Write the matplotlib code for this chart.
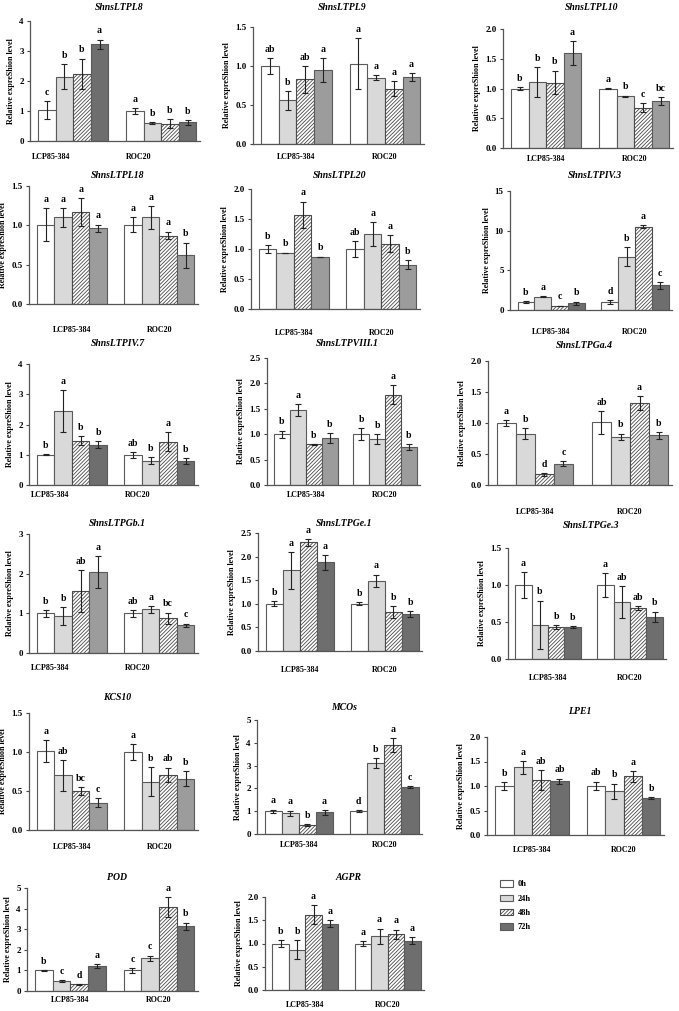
import matplotlib
matplotlib.use("Agg")
import matplotlib.pyplot as plt
import numpy as np
from matplotlib.transforms import blended_transform_factory
from matplotlib.patches import Patch

# ---------------- data ----------------
genes = ["ShnsLTPL8", "ShnsLTPL9", "ShnsLTPL10", "ShnsLTPL18", "ShnsLTPL20",
         "ShnsLTPIV.3", "ShnsLTPIV.7", "ShnsLTPVIII.1", "ShnsLTPGa.4",
         "ShnsLTPGb.1", "ShnsLTPGe.1", "ShnsLTPGe.3", "KCS10", "MCOs", "LPE1",
         "POD", "AGPR"]
cultivars = ["LCP85-384", "ROC20"]
timepoints = ["0h", "24h", "48h", "72h"]

lcp_mean = [[1.02, 2.15, 2.25, 3.23], [1.00, 0.56, 0.83, 0.95], [1.00, 1.11, 1.10, 1.60],
            [1.01, 1.10, 1.17, 0.96], [1.00, 0.94, 1.57, 0.87], [1.00, 1.70, 0.50, 0.87],
            [1.00, 2.45, 1.47, 1.33], [1.00, 1.48, 0.80, 0.92], [1.00, 0.83, 0.17, 0.34],
            [1.00, 0.93, 1.57, 2.05], [1.00, 1.71, 2.30, 1.88], [1.00, 0.46, 0.43, 0.43],
            [1.01, 0.70, 0.50, 0.35], [1.00, 0.90, 0.40, 0.95], [1.00, 1.38, 1.12, 1.10],
            [1.00, 0.50, 0.33, 1.22], [1.00, 0.87, 1.62, 1.43]]
lcp_err = [[0.30, 0.42, 0.50, 0.15], [0.10, 0.12, 0.17, 0.15], [0.02, 0.25, 0.20, 0.20],
           [0.21, 0.12, 0.18, 0.05], [0.07, 0.00, 0.22, 0.005], [0.10, 0.10, 0.05, 0.20],
           [0.01, 0.70, 0.14, 0.12], [0.07, 0.12, 0.01, 0.10], [0.05, 0.09, 0.02, 0.04],
           [0.08, 0.22, 0.53, 0.40], [0.05, 0.39, 0.07, 0.16], [0.18, 0.33, 0.03, 0.01],
           [0.14, 0.20, 0.05, 0.06], [0.07, 0.13, 0.03, 0.10], [0.08, 0.13, 0.20, 0.05],
           [0.03, 0.05, 0.02, 0.10], [0.07, 0.20, 0.20, 0.07]]
roc_mean = [[1.00, 0.60, 0.57, 0.63], [1.03, 0.85, 0.71, 0.86], [1.00, 0.87, 0.68, 0.79],
            [1.01, 1.10, 0.87, 0.62], [1.00, 1.25, 1.09, 0.74], [1.00, 6.70, 10.50, 3.10],
            [1.00, 0.80, 1.43, 0.80], [1.00, 0.90, 1.78, 0.74], [1.01, 0.78, 1.32, 0.80],
            [1.00, 1.10, 0.87, 0.70], [1.00, 1.49, 0.83, 0.78], [1.00, 0.77, 0.69, 0.57],
            [1.00, 0.62, 0.71, 0.66], [1.00, 3.10, 3.90, 2.05], [1.00, 0.89, 1.20, 0.75],
            [1.00, 1.60, 4.08, 3.15], [1.00, 1.16, 1.20, 1.06]]
roc_err = [[0.10, 0.02, 0.15, 0.08], [0.33, 0.03, 0.10, 0.05], [0.01, 0.01, 0.07, 0.07],
           [0.09, 0.15, 0.05, 0.16], [0.13, 0.20, 0.14, 0.08], [0.30, 1.20, 0.20, 0.40],
           [0.10, 0.12, 0.32, 0.10], [0.12, 0.10, 0.18, 0.06], [0.18, 0.05, 0.11, 0.05],
           [0.08, 0.09, 0.15, 0.04], [0.03, 0.13, 0.13, 0.06], [0.16, 0.22, 0.03, 0.07],
           [0.10, 0.19, 0.09, 0.10], [0.05, 0.22, 0.30, 0.04], [0.09, 0.16, 0.11, 0.02],
           [0.12, 0.12, 0.48, 0.17], [0.05, 0.16, 0.10, 0.08]]
lcp_letters = [["c", "b", "b", "a"], ["ab", "b", "ab", "a"], ["b", "b", "b", "a"],
               ["a", "a", "a", "a"], ["b", "b", "a", "b"], ["b", "a", "c", "b"],
               ["b", "a", "b", "b"], ["b", "a", "b", "b"], ["a", "b", "d", "c"],
               ["b", "b", "ab", "a"], ["b", "a", "a", "a"], ["a", "b", "b", "b"],
               ["a", "ab", "bc", "c"], ["a", "a", "b", "a"], ["b", "a", "ab", "ab"],
               ["b", "c", "d", "a"], ["b", "b", "a", "a"]]
roc_letters = [["a", "b", "b", "b"], ["a", "a", "a", "a"], ["a", "b", "c", "bc"],
               ["a", "a", "a", "b"], ["ab", "a", "a", "b"], ["d", "b", "a", "c"],
               ["ab", "b", "a", "b"], ["b", "b", "a", "b"], ["ab", "b", "a", "b"],
               ["ab", "a", "bc", "c"], ["b", "a", "b", "b"], ["a", "ab", "ab", "b"],
               ["a", "b", "ab", "b"], ["d", "b", "a", "c"], ["ab", "b", "a", "b"],
               ["c", "c", "a", "b"], ["a", "a", "a", "a"]]
y_max = [4, 1.5, 2.0, 1.5, 2.0, 15, 4, 2.5, 2.0, 3, 2.5, 1.5, 1.5, 5, 2.0, 5, 2.0]
y_step = [1, 0.5, 0.5, 0.5, 0.5, 5, 1, 0.5, 0.5, 1, 0.5, 0.5, 0.5, 1, 0.5, 1, 0.5]

# ---------------- layout / style ----------------
W, H = 679, 1011
# axes rectangles in pixels: left, right, top(ymax), bottom(0)
rects = [(30, 200, 21, 141), (253, 424, 27, 144), (503, 673, 29, 148),
         (29, 198, 186, 304), (251, 420, 189, 309), (510, 672, 191, 310),
         (29, 198, 364, 485), (267, 420, 358, 485), (488, 672, 361, 485),
         (29, 198, 534, 653), (258, 422, 533, 651), (508, 666, 548, 659),
         (29, 198, 713, 830), (257, 422, 720, 834), (487, 664, 737, 835),
         (27, 198, 888, 991), (265, 424, 897, 990)]
title_y = [7, 7, 7, 176, 176, 176, 344, 343, 345, 523, 523, 525, 698, 707, 712, 877, 877]
label_y = [157, 157, 159, 330, 333, 332, 495, 495, 512, 668, 670, 678, 847, 845, 850, 1000, 1005]
label_shift = [-1.25, 0, 0, 0, 0, 0, -1.25, 0, 0, -1.25, 0, 0, 0, 0, 0, 0, 0]
dark72 = [True, False, False, False, False, True, True, False, False, False, True, True,
          False, True, True, True, True]

plt.rcParams["font.family"] = ["Liberation Serif", "DejaVu Serif"]
plt.rcParams["font.weight"] = "bold"
plt.rcParams["hatch.linewidth"] = 0.6

EDGE = "#5a5a5a"
HATCH_EDGE = "#4a4a4a"
C0, C24, CMED, CDARK = "#ffffff", "#d9d9d9", "#9c9c9c", "#6e6e6e"
HATCH = "/////////"

fig = plt.figure(figsize=(W / 100, H / 100), dpi=100)

centers = [np.arange(4), np.arange(4) + 5]

for i, g in enumerate(genes):
    l, r, t, b = rects[i]
    ax = fig.add_axes([l / W, 1 - b / H, (r - l) / W, (b - t) / H])
    cols = [C0, C24, C0, CDARK if dark72[i] else CMED]
    data = [(lcp_mean[i], lcp_err[i], lcp_letters[i]),
            (roc_mean[i], roc_err[i], roc_letters[i])]
    for gi, (m, e, let) in enumerate(data):
        for k in range(4):
            x = centers[gi][k]
            ax.bar(x, m[k], width=1.0, color=cols[k],
                   edgecolor=HATCH_EDGE if k == 2 else EDGE, linewidth=0.8,
                   hatch=HATCH if k == 2 else None, zorder=2)
            ax.errorbar(x, m[k], yerr=e[k], fmt="none", ecolor="#222222",
                        elinewidth=0.8, capsize=2.2, capthick=0.8, zorder=3)
            ax.annotate(let[k], (x, m[k] + e[k]), xytext=(0, 3),
                        textcoords="offset points", ha="center", va="bottom",
                        fontsize=7, fontweight="bold")
    ax.set_xlim(-0.95, 8.7)
    ax.set_ylim(0, y_max[i])
    ticks = np.arange(0, y_max[i] + 1e-9, y_step[i])
    ax.set_yticks(ticks)
    if y_step[i] < 1:
        ax.set_yticklabels([f"{v:.1f}" for v in ticks])
    else:
        ax.set_yticklabels([f"{int(v)}" for v in ticks])
    ax.tick_params(axis="y", labelsize=6.5, length=2.5, width=0.8, pad=2,
                   color="#444444")
    ax.set_xticks([])
    for s in ["top", "right"]:
        ax.spines[s].set_visible(False)
    for s in ["left", "bottom"]:
        ax.spines[s].set_color("#555555")
        ax.spines[s].set_linewidth(0.9)
    ax.set_ylabel("Relative expreShion level", fontsize=5.8, fontweight="bold",
                  labelpad=3)
    ax.patch.set_alpha(0)
    tr = blended_transform_factory(ax.transData, fig.transFigure)
    for gi, name in enumerate(cultivars):
        ax.text(centers[gi].mean() + label_shift[i], 1 - label_y[i] / H, name,
                transform=tr, ha="center", va="center", fontsize=5.8,
                fontweight="bold")
    fig.text((l + r) / 2 / W + 0.006, 1 - title_y[i] / H, g, ha="center",
             va="center", fontsize=7, fontweight="bold", style="italic")

handles = [Patch(facecolor=C0, edgecolor=EDGE, linewidth=0.8),
           Patch(facecolor=C24, edgecolor=EDGE, linewidth=0.8),
           Patch(facecolor=C0, edgecolor=HATCH_EDGE, linewidth=0.8, hatch=HATCH),
           Patch(facecolor=CDARK, edgecolor=EDGE, linewidth=0.8)]
fig.legend(handles, timepoints, loc="upper left",
           bbox_to_anchor=(497 / W, 1 - 877 / H), frameon=False, fontsize=6,
           handlelength=1.5, handleheight=0.8, labelspacing=0.75,
           handletextpad=0.6, borderaxespad=0)

fig.savefig("out.png", dpi=100)
